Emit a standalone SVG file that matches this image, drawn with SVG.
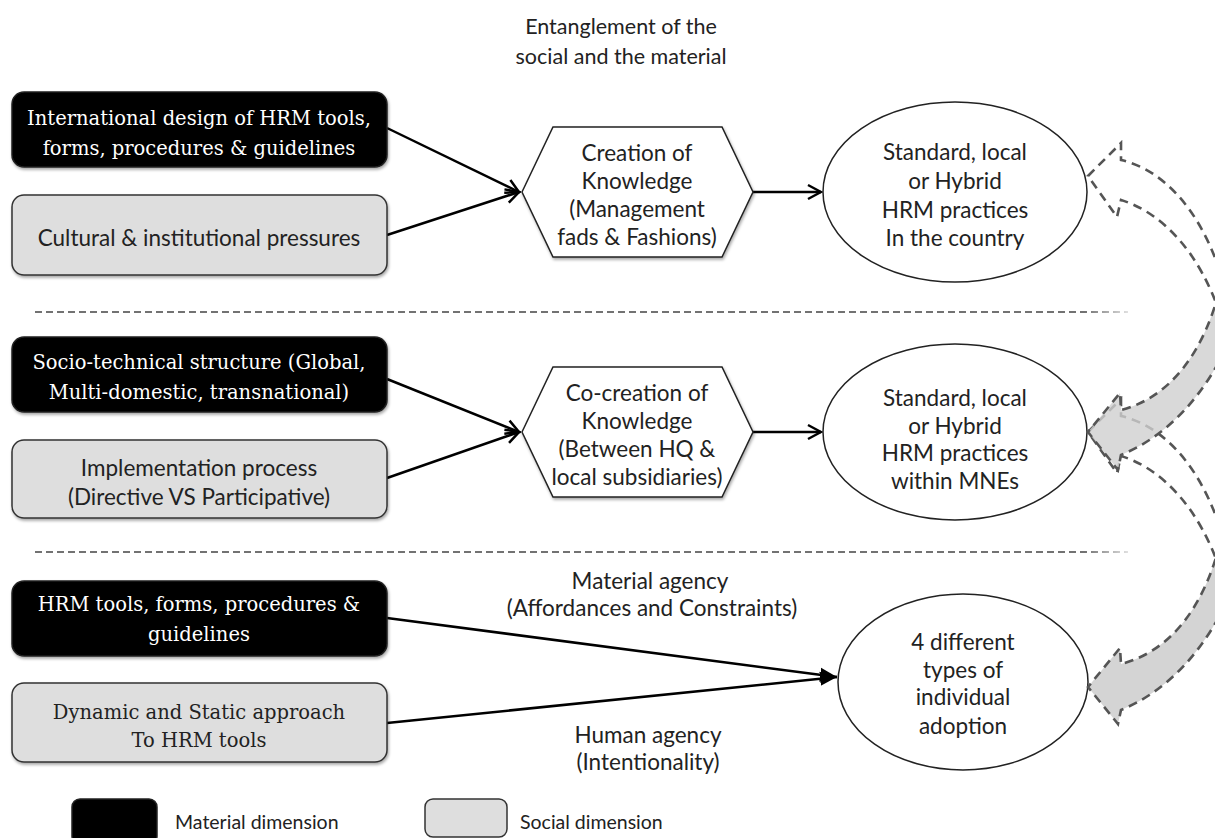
<svg xmlns="http://www.w3.org/2000/svg" width="1215" height="838" viewBox="0 0 1215 838">
<style>
.sans{font-family:Lato,"Liberation Sans",sans-serif;font-size:22.5px;fill:#222;}
.title{font-size:21.5px;}
.leg{font-size:19.5px;}
.serif{font-family:"DejaVu Serif","Liberation Serif",serif;font-size:19.5px;}
.w{fill:#fff;}
.k{fill:#222;}
.blk{fill:#000;stroke:#222;stroke-width:1.5;}
.gry{fill:#dedede;stroke:#333;stroke-width:1.5;}
.shape{fill:#fff;stroke:#222;stroke-width:1.5;}
.conn{stroke:#000;stroke-width:2.5;fill:none;}
.sep{stroke-width:1.6;stroke-dasharray:7 4;fill:none;}
.curve{stroke:#555;stroke-width:2.6;stroke-dasharray:9 6;}
</style>
<defs>
<filter id="sh" x="-10%" y="-10%" width="120%" height="130%"><feDropShadow dx="1" dy="2" stdDeviation="1.5" flood-opacity="0.35"/></filter>
<marker id="open" markerUnits="userSpaceOnUse" markerWidth="18" markerHeight="18" viewBox="0 0 18 18" refX="16" refY="9" orient="auto"><path d="M3,2 L16,9 L3,16" fill="none" stroke="#000" stroke-width="2.5"/></marker>
<marker id="solid" markerUnits="userSpaceOnUse" markerWidth="18" markerHeight="16" viewBox="0 0 18 16" refX="17" refY="8" orient="auto"><path d="M0,1 L17,8 L0,15 Z" fill="#000"/></marker>
<linearGradient id="fade" gradientUnits="userSpaceOnUse" x1="1085" y1="0" x2="1130" y2="0"><stop offset="0" stop-color="#444"/><stop offset="1" stop-color="#ddd"/></linearGradient>
</defs>
<rect width="1215" height="838" fill="#fff"/>

<g id="title">
<text class="sans title" x="621" y="34" text-anchor="middle">Entanglement of the</text>
<text class="sans title" x="621" y="64" text-anchor="middle">social and the material</text>
</g>

<g id="separators">
<line class="sep" x1="35" y1="312" x2="1128" y2="312" stroke="url(#fade)"/>
<line class="sep" x1="35" y1="552" x2="1128" y2="552" stroke="url(#fade)"/>
</g>

<g id="connectors">
<line class="conn" x1="387" y1="128" x2="519" y2="192" marker-end="url(#open)"/>
<line class="conn" x1="387" y1="235" x2="519" y2="192" marker-end="url(#open)"/>
<line class="conn" x1="753" y1="192" x2="821" y2="192" marker-end="url(#open)"/>
<line class="conn" x1="387" y1="379" x2="519" y2="432" marker-end="url(#open)"/>
<line class="conn" x1="387" y1="478" x2="519" y2="432" marker-end="url(#open)"/>
<line class="conn" x1="753" y1="432" x2="821" y2="432" marker-end="url(#open)"/>
<line class="conn" x1="387" y1="618" x2="837" y2="677" marker-end="url(#solid)"/>
<line class="conn" x1="387" y1="723" x2="837" y2="677" marker-end="url(#solid)"/>
</g>

<g id="box1"><rect class="blk" x="12" y="92" width="375" height="75" rx="12" filter="url(#sh)"/>
<text class="serif w" x="199" y="125" text-anchor="middle">International design of HRM tools,</text>
<text class="serif w" x="199" y="155" text-anchor="middle">forms, procedures &amp; guidelines</text></g>

<g id="box2"><rect class="gry" x="12" y="195" width="375" height="80" rx="12" filter="url(#sh)"/>
<text class="sans" x="199" y="246" text-anchor="middle">Cultural &amp; institutional pressures</text></g>

<g id="box3"><rect class="blk" x="12" y="337" width="375" height="75" rx="12" filter="url(#sh)"/>
<text class="serif w" x="199" y="369" text-anchor="middle">Socio-technical structure (Global,</text>
<text class="serif w" x="199" y="399" text-anchor="middle">Multi-domestic, transnational)</text></g>

<g id="box4"><rect class="gry" x="12" y="440" width="375" height="78" rx="12" filter="url(#sh)"/>
<text class="sans" x="199" y="476" text-anchor="middle">Implementation process</text>
<text class="sans" x="199" y="505" text-anchor="middle">(Directive VS Participative)</text></g>

<g id="box5"><rect class="blk" x="12" y="581" width="375" height="75" rx="12" filter="url(#sh)"/>
<text class="serif w" x="199" y="611" text-anchor="middle">HRM tools, forms, procedures &amp;</text>
<text class="serif w" x="199" y="641" text-anchor="middle">guidelines</text></g>

<g id="box6"><rect class="gry" x="12" y="683" width="375" height="79" rx="12" filter="url(#sh)"/>
<text class="serif k" x="199" y="719" text-anchor="middle">Dynamic and Static approach</text>
<text class="serif k" x="199" y="747" text-anchor="middle">To HRM tools</text></g>

<g id="hex1"><polygon class="shape" points="522,192 553,127 722,127 753,192 722,257 553,257" filter="url(#sh)"/>
<text class="sans" x="637" y="161" text-anchor="middle">Creation of</text>
<text class="sans" x="637" y="189" text-anchor="middle">Knowledge</text>
<text class="sans" x="637" y="217" text-anchor="middle">(Management</text>
<text class="sans" x="637" y="245" text-anchor="middle">fads &amp; Fashions)</text></g>

<g id="hex2"><polygon class="shape" points="522,432 553,367 722,367 753,432 722,497 553,497" filter="url(#sh)"/>
<text class="sans" x="637" y="401" text-anchor="middle">Co-creation of</text>
<text class="sans" x="637" y="429" text-anchor="middle">Knowledge</text>
<text class="sans" x="637" y="457" text-anchor="middle">(Between HQ &amp;</text>
<text class="sans" x="637" y="485" text-anchor="middle">local subsidiaries)</text></g>

<g id="ellipse1"><ellipse class="shape" cx="955" cy="192" rx="132" ry="90"/>
<text class="sans" x="955" y="160" text-anchor="middle">Standard, local</text>
<text class="sans" x="955" y="189" text-anchor="middle">or Hybrid</text>
<text class="sans" x="955" y="218" text-anchor="middle">HRM practices</text>
<text class="sans" x="955" y="246" text-anchor="middle">In the country</text></g>

<g id="ellipse2"><ellipse class="shape" cx="955" cy="432" rx="132" ry="88"/>
<text class="sans" x="955" y="406" text-anchor="middle">Standard, local</text>
<text class="sans" x="955" y="434" text-anchor="middle">or Hybrid</text>
<text class="sans" x="955" y="461" text-anchor="middle">HRM practices</text>
<text class="sans" x="955" y="489" text-anchor="middle">within MNEs</text></g>

<g id="ellipse3"><ellipse class="shape" cx="963" cy="682" rx="125" ry="88"/>
<text class="sans" x="963" y="650" text-anchor="middle">4 different</text>
<text class="sans" x="963" y="678" text-anchor="middle">types of</text>
<text class="sans" x="963" y="705" text-anchor="middle">individual</text>
<text class="sans" x="963" y="734" text-anchor="middle">adoption</text></g>

<g id="agency-labels">
<text class="sans" x="650" y="589" text-anchor="middle">Material agency</text>
<text class="sans" x="652" y="616" text-anchor="middle">(Affordances and Constraints)</text>
<text class="sans" x="648" y="743" text-anchor="middle">Human agency</text>
<text class="sans" x="648" y="770" text-anchor="middle">(Intentionality)</text>
</g>

<g id="curved-arrows">
<path class="curve" fill="none" d="M1228,300 C1208,215 1165,170 1121,160 L1121,143 L1088,176 L1117,217 L1121,200 C1160,212 1200,250 1222,320"/>
<path class="curve" fill="none" d="M1228,556 C1208,471 1165,426 1121,416 L1121,399 L1088,432 L1117,473 L1121,456 C1160,468 1200,506 1222,576"/>
<path class="curve" fill="#cfcfcf" fill-opacity="0.8" d="M1232,335 C1205,398 1165,437 1121,455 L1118,470 L1088,432 L1120,393 L1121,410 C1168,398 1205,355 1222,280 L1240,280 L1240,335 Z"/>
<path class="curve" fill="#cfcfcf" fill-opacity="0.9" d="M1232,590 C1205,653 1165,692 1121,710 L1118,724 L1088,687 L1120,648 L1121,664 C1168,652 1205,610 1222,535 L1240,535 L1240,590 Z"/>
</g>

<g id="legend">
<rect x="72" y="799" width="85" height="45" rx="8" fill="#000" stroke="#222" stroke-width="1.5"/>
<text class="sans leg" x="175" y="829">Material dimension</text>
<rect x="425" y="799" width="82" height="38" rx="8" class="gry"/>
<text class="sans leg" x="520" y="829">Social dimension</text>
</g>
</svg>
